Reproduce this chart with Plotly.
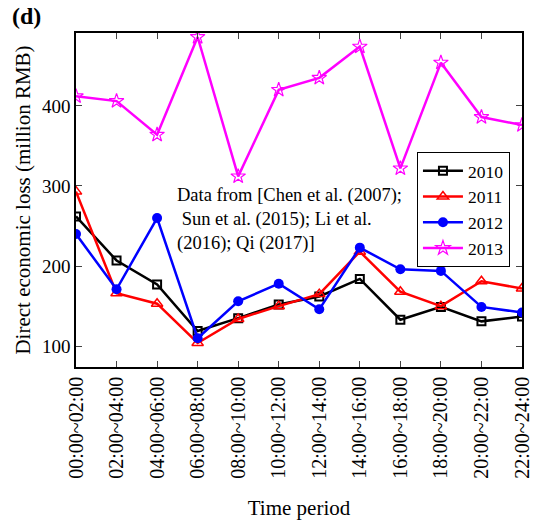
import plotly.graph_objects as go

periods = ["00:00~02:00", "02:00~04:00", "04:00~06:00", "06:00~08:00", "08:00~10:00",
           "10:00~12:00", "12:00~14:00", "14:00~16:00", "16:00~18:00", "18:00~20:00",
           "20:00~22:00", "22:00~24:00"]
loss_2010 = [262, 207, 177, 119, 135, 152, 162, 184, 133, 149, 131, 137]
loss_2011 = [293, 166, 153, 104, 134, 150, 165, 218, 168, 150, 181, 172]
loss_2012 = [240, 171, 260, 110, 156, 178, 146, 223, 196, 194, 149, 142]
loss_2013 = [412, 406, 364, 486, 312, 420, 435, 474, 322, 454, 386, 376]

FONT = "Liberation Serif"
x = list(range(len(periods)))

fig = go.Figure()
fig.add_trace(go.Scatter(x=x, y=loss_2010, name="2010", mode="lines+markers",
                         line=dict(color="black", width=2.5),
                         marker=dict(symbol="square-open", size=8, color="black", line=dict(width=2))))
fig.add_trace(go.Scatter(x=x, y=loss_2011, name="2011", mode="lines+markers",
                         line=dict(color="#ff0000", width=2.5),
                         marker=dict(symbol="triangle-up-open", size=10, color="#ff0000", line=dict(width=1.5))))
fig.add_trace(go.Scatter(x=x, y=loss_2012, name="2012", mode="lines+markers",
                         line=dict(color="#0000ff", width=2.5),
                         marker=dict(symbol="circle", size=10, color="#0000ff")))
fig.add_trace(go.Scatter(x=x, y=loss_2013, name="2013", mode="lines+markers",
                         line=dict(color="#ff00ff", width=2.5),
                         marker=dict(symbol="star-open", size=11, color="#ff00ff", line=dict(width=1.2))))

fig.update_layout(
    width=535, height=521,
    margin=dict(l=76, r=13, t=33, b=154, autoexpand=False),
    paper_bgcolor="white", plot_bgcolor="white",
    font=dict(family=FONT, color="black", size=18),
    showlegend=True,
    legend=dict(x=0.973, y=0.644, xanchor="right", yanchor="top",
                bordercolor="black", borderwidth=1, bgcolor="white",
                font=dict(family=FONT, size=17.5), tracegroupgap=0, itemwidth=40),
    xaxis=dict(range=[0, 11], tickmode="array", tickvals=x, ticktext=periods,
               tickangle=-90, ticks="inside", ticklen=6, mirror="ticks", automargin=False,
               showline=True, linecolor="black", linewidth=1.5, showgrid=False, zeroline=False,
               tickfont=dict(family=FONT, size=20),
               title=dict(text="Time period", font=dict(family=FONT, size=21), standoff=23)),
    yaxis=dict(range=[74, 491], tickvals=[100, 200, 300, 400], ticks="inside", ticklen=6,
               mirror="ticks", showline=True, linecolor="black", linewidth=1.5, automargin=False,
               showgrid=False, zeroline=False, tickfont=dict(family=FONT, size=19),
               title=dict(text="Direct economic loss (million RMB)", font=dict(family=FONT, size=21), standoff=6)),
)

fig.add_annotation(x=0.222, y=0.551, xref="paper", yref="paper", xanchor="left", yanchor="top",
                   text="Data from [Chen et al. (2007);<br>&nbsp;Sun et al. (2015); Li et al.<br>(2016); Qi (2017)]",
                   showarrow=False, align="left", font=dict(family=FONT, size=18.5))
fig.add_annotation(x=-0.148, y=1.05, xref="paper", yref="paper", xanchor="left", yanchor="middle",
                   text="<b>(d)</b>", showarrow=False, font=dict(family=FONT, size=24))

fig.write_html("out.html", config={"displayModeBar": False},
               post_script="document.body.style.margin='0';document.body.style.overflow='hidden';")
